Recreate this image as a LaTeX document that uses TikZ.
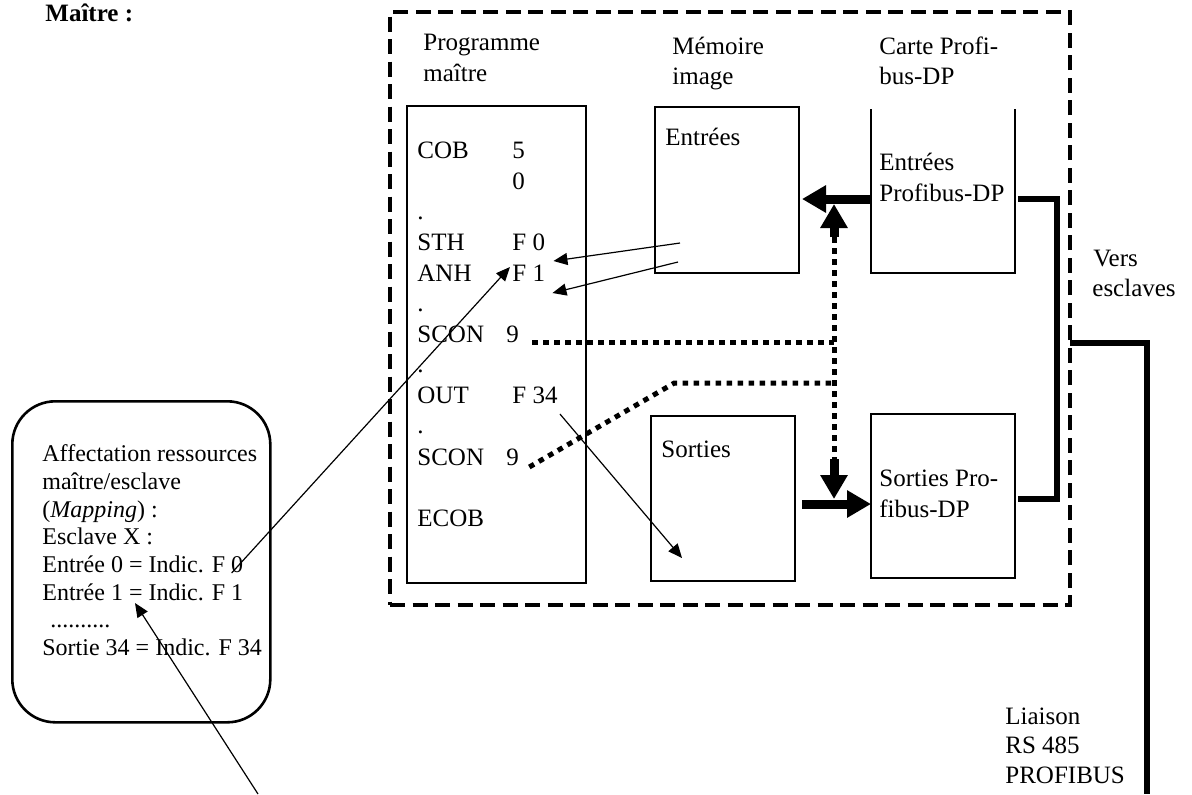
\documentclass[tikz,border=0pt]{standalone}
\usepackage{fontspec}
\setmainfont{Liberation Serif}
\usetikzlibrary{arrows.meta}

\begin{document}
\begin{tikzpicture}[x=0.5pt,y=-0.5pt,
  txt/.style={inner sep=0pt,anchor=base west,font=\fontsize{12.5}{15}\selectfont},
  small/.style={txt,font=\fontsize{12}{14}\selectfont},
  box/.style={draw,line width=0.7pt,inner sep=0pt,outer sep=0pt,anchor=north west,minimum width=72pt},
  thin/.style={line width=0.6pt,-{Triangle[length=7pt,width=6pt]}},
  fat/.style={line width=4.5pt,-{Triangle[length=12pt,width=13pt]}},
  dotline/.style={line width=2.5pt,dash pattern=on 2.75pt off 2.75pt},
  bus/.style={line width=2.75pt}]
\useasboundingbox (0,0) rectangle (1192,794);

\node[txt,font=\bfseries\fontsize{12.5}{15}\selectfont] (title) at (45,21) {Maître :};

% master station frame
\node[box,line width=2pt,dash pattern=on 7.5pt off 3.75pt,minimum width=340pt,minimum height=296.5pt] (frame) at (390,12) {};

\node[txt] (proghead) at (423,50) {Programme};
\node[txt] (progheadb) at (423,81) {maître};
\node[txt] (memhead) at (672,54) {Mémoire};
\node[txt] (memheadb) at (672,84) {image};
\node[txt] (cardhead) at (879,54) {Carte Profi-};
\node[txt] (cardheadb) at (879,84) {bus-DP};

% boxes
\node[box,minimum width=89.5pt,minimum height=238.5pt] (prog) at (407,106) {};
\node[box,minimum height=83pt] (memin) at (655,107) {};
\node[box,minimum height=82.5pt] (memout) at (651,416) {};
\node[box,draw=none,minimum height=82pt] (cardin) at (871,109) {};
\draw[line width=0.7pt] (cardin.north west) -- (cardin.south west) -- (cardin.south east) -- (cardin.north east);
\node[box,minimum height=82pt] (cardout) at (871,414) {};

\node[txt] (memintxt) at (665,145) {Entrées};
\node[txt] (cardintxt) at (879,170) {Entrées};
\node[txt] (cardintxtb) at (879,201) {Profibus-DP};
\node[txt] (memouttxt) at (661,457) {Sorties};
\node[txt] (cardouttxt) at (879,486) {Sorties Pro-};
\node[txt] (cardouttxtb) at (879,517) {fibus-DP};

% program listing
\node[txt] (cob) at (417,158) {COB};
\node[txt] (cobnum) at (512,158) {5};
\node[txt] (cobnumb) at (512,189) {0};
\node[txt] (dota) at (417,219) {.};
\node[txt] (sth) at (417,250) {STH};
\node[txt] (fzero) at (512,250) {F 0};
\node[txt] (anh) at (417,281) {ANH};
\node[txt] (fone) at (512,281) {F 1};
\node[txt] (dotb) at (417,311) {.};
\node[txt] (scona) at (417,342) {SCON};
\node[txt] (ninea) at (506,342) {9};
\node[txt] (dotc) at (417,372) {.};
\node[txt] (out) at (417,403) {OUT};
\node[txt] (fthirtyfour) at (512,403) {F 34};
\node[txt] (dotd) at (417,433) {.};
\node[txt] (sconb) at (417,465) {SCON};
\node[txt] (nineb) at (506,465) {9};
\node[txt] (ecob) at (417,526) {ECOB};

% mapping note
\node[draw,line width=1.3pt,rounded corners=21.5pt,inner sep=0pt,anchor=north west,minimum width=129pt,minimum height=160.5pt] (mapping) at (11,400) {};
\node[small] (mapa) at (42,461) {Affectation ressources};
\node[small] (mapb) at (42,489) {maître/esclave};
\node[small] (mapc) at (42,517) {(\textit{Mapping}) :};
\node[small] (mapd) at (42,544) {Esclave X :};
\node[small] (mape) at (42,572) {Entrée 0 = Indic. F 0};
\node[small] (mapf) at (42,600) {Entrée 1 = Indic. F 1};
\node[small] (mapg) at (50,627) {..........};
\node[small] (maph) at (42,655) {Sortie 34 = Indic. F 34};

\node[txt] (vers) at (1093,266) {Vers};
\node[txt] (versb) at (1092,296) {esclaves};
\node[txt] (liaison) at (1005,724) {Liaison};
\node[txt] (liaisonb) at (1005,753) {RS 485};
\node[txt] (liaisonc) at (1005,783) {PROFIBUS};

% data paths
\coordinate (jin) at (834,204);
\coordinate (jout) at (834,499);
\draw[fat] ([shift={(0,8)}]cardin.west) -- ([shift={(3,9)}]memin.east);
\draw[fat] ([shift={(7,5.5)}]memout.east) -- ([shift={(0,8)}]cardout.west);
\draw[dotline] ([yshift=-16.5pt]jin) -- ([yshift=20pt]jout);
\draw[fat] ([yshift=-16.5pt]jin) -- (jin);
\draw[fat] ([yshift=20pt]jout) -- (jout);
\draw[dotline] ([xshift=6.5pt]ninea.base east) -- (ninea.base -| jin);
\draw[dotline] ([shift={(10,2)}]nineb.base east) -- ++(145,-84) coordinate (kink) -- (kink -| jin);

\draw[thin] ([shift={(25,-30)}]memin.south west) -- ([shift={(8,11)}]fzero.base east);
\draw[thin] ([shift={(23,-11)}]memin.south west) -- ([shift={(7,12)}]fone.base east);
\draw[thin] ([shift={(-12,1)}]mape.base east) -- ([shift={(-2,-14)}]fone.base west);
\draw[thin] ([shift={(2,11)}]fthirtyfour.base east) -- ([shift={(31,-23)}]memout.south west);
\coordinate (foot) at (258,794);
\draw[thin] (foot) -- ([shift={(93,3)}]mapf.base west);

% bus lines
\draw[bus] ([shift={(3,8)}]cardin.east) -- ++(39,0) |- ([shift={(3,3)}]cardout.east);
\coordinate (rs) at (1147,794);
\draw[bus] ([yshift=-17.25pt]frame.east) -| (rs);
\end{tikzpicture}
\end{document}
